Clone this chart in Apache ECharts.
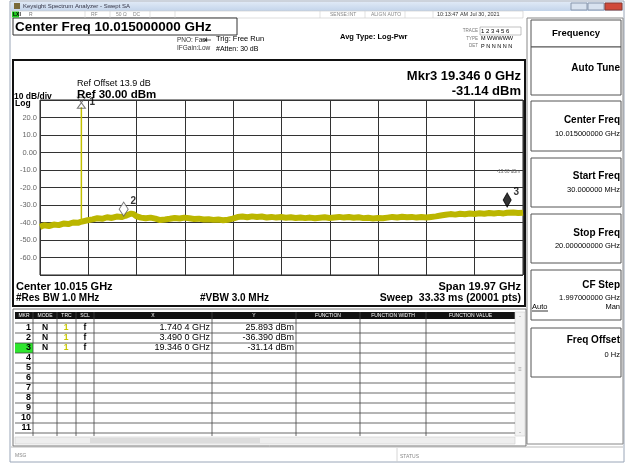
<!DOCTYPE html>
<html><head><meta charset="utf-8">
<script src="https://cdn.jsdelivr.net/npm/echarts@6/dist/echarts.min.js"></script>
<style>html,body{margin:0;padding:0;background:#fff}#c{width:628px;height:463px}</style>
</head><body><div id="c"></div>
<script>
// ---- data ----
const traceFreqGHz = [0.03,0.2,0.4,0.6,0.8,1.0,1.2,1.4,1.6,1.72,1.8,2.0,2.2,2.4,2.6,2.8,3.0,3.2,3.4,3.5,3.6,3.8,3.9,4.0,4.2,4.4,4.6,4.8,5.0,5.2,5.4,5.6,5.8,6.0,6.2,6.4,6.6,6.8,7.0,7.2,7.4,7.6,7.8,8.0,8.2,8.4,8.6,8.8,9.0,9.2,9.4,9.6,9.8,10.0,10.2,10.4,10.6,10.8,11.0,11.2,11.4,11.6,11.8,12.0,12.2,12.4,12.6,12.8,13.0,13.2,13.4,13.6,13.8,14.0,14.2,14.4,14.6,14.8,15.0,15.2,15.4,15.6,15.8,16.0,16.2,16.4,16.6,16.8,17.0,17.2,17.4,17.6,17.8,18.0,18.2,18.4,18.6,18.8,19.0,19.2,19.35,19.4,19.6,19.8,20.0];
const traceLevelDbm = [-42.5,-41.6,-42.0,-41.2,-41.5,-40.6,-40.9,-40.0,-40.2,-39.6,-39.4,-38.7,-38.2,-37.6,-37.9,-37.0,-37.4,-36.6,-36.9,-36.4,-36.0,-34.9,-35.2,-36.3,-37.2,-37.6,-37.2,-37.8,-38.6,-38.3,-37.9,-37.4,-37.7,-37.2,-37.6,-38.0,-37.8,-38.3,-38.1,-38.5,-38.3,-38.7,-38.4,-37.8,-36.9,-36.6,-37.0,-36.5,-36.9,-36.6,-37.1,-36.8,-37.2,-36.9,-37.3,-37.0,-37.4,-37.1,-37.5,-37.2,-37.6,-37.3,-37.0,-37.4,-37.1,-36.8,-37.2,-36.9,-37.3,-37.0,-37.5,-37.3,-37.7,-37.4,-37.6,-37.2,-36.8,-37.1,-36.7,-37.0,-36.8,-37.2,-36.9,-37.1,-36.8,-36.5,-36.0,-35.6,-35.2,-35.5,-35.0,-35.3,-34.9,-35.1,-34.7,-35.0,-34.6,-34.9,-34.5,-34.8,-34.4,-34.7,-34.3,-34.6,-34.4];
const spikeFreqGHz = [1.7404, 1.7404];
const spikeLevelDbm = [-39.6, 25.893];
const markerNum = ['1','2','3'];
const markerFreqGHz = [1.7404, 3.490, 19.346];
const markerLevelDbm = [25.893, -36.390, -31.14];
const markerXText = ['1.740 4 GHz','3.490 0 GHz','19.346 0 GHz'];
const markerYText = ['25.893 dBm','-36.390 dBm','-31.14 dBm'];
const yTickLabels = {20:'20.0',10:'10.0',0:'0.00','-10':'-10.0','-20':'-20.0','-30':'-30.0','-40':'-40.0','-50':'-50.0','-60':'-60.0'};
const tableColTitles = ['MKR','MODE','TRC','SCL','X','Y','FUNCTION','FUNCTION WIDTH','FUNCTION VALUE'];

// ---- chart ----
const chart = echarts.init(document.getElementById('c'), null, {renderer:'canvas'});
const F = 'Liberation Sans, Arial, sans-serif';
const G = [];
function T(x,y,text,o){o=o||{};G.push({type:'text',z:o.z||10,style:{x:x,y:y,text:text,font:(o.w||'normal')+' '+(o.s||9)+'px '+F,fill:o.c||'#000',align:o.a||'left',verticalAlign:'middle'}});}
function R(x,y,w,h,fill,stroke,lw,z){G.push({type:'rect',z:z||5,shape:{x:x,y:y,width:w,height:h},style:{fill:fill||'none',stroke:stroke||null,lineWidth:lw||1}});}
function L(x1,y1,x2,y2,c,lw,z){G.push({type:'line',z:z||6,shape:{x1:x1,y1:y1,x2:x2,y2:y2},style:{stroke:c||'#000',lineWidth:lw||1}});}

// window frame
R(10,1,614,461,'none','#9aa6b8',1,1);
G.push({type:'rect',z:2,shape:{x:11,y:2,width:612,height:9},style:{fill:new echarts.graphic.LinearGradient(0,0,0,1,[{offset:0,color:'#dfe9f6'},{offset:1,color:'#c3d4ea'}])}});
R(14,3,6,6,'#7a6a3a',null,1,3);
T(23,6.5,'Keysight Spectrum Analyzer - Swept SA',{s:6,c:'#334'});
R(571,3,16,7,'#d8e2ef','#8a98ad',1,3);R(588,3,16,7,'#d8e2ef','#8a98ad',1,3);R(605,3,17,7,'#d04a3a','#8a3a30',1,3);
// status row
R(11,11,512,7,'#fff','#c8c8c8',0.6,3);
R(12,11.5,7,6,'#22cc22',null,1,4);T(13,14.6,'LXI',{s:5,w:'bold'});
T(29,14.6,'R',{s:5,c:'#777'});T(91,14.6,'RF',{s:5,c:'#888'});T(116,14.6,'50 Ω',{s:5,c:'#888'});T(133,14.6,'DC',{s:5,c:'#888'});
T(330,14.6,'SENSE:INT',{s:5,c:'#888'});T(371,14.6,'ALIGN AUTO',{s:5,c:'#888'});T(437,14.6,'10:13:47 AM Jul 30, 2021',{s:5.5,c:'#333'});
[85,110,150,175,320,365,405,433].forEach(x=>L(x,11,x,18,'#ccc',0.6,4));
// header
R(13,18,224,17,'#fff','#333',1,3);
T(15,27,'Center Freq 10.015000000 GHz',{s:13.5,w:'bold'});
T(177,40,'PNO: Fast',{s:6.5,c:'#333'});L(201,40,211,40,'#333',0.8,8);G.push({type:'circle',z:8,shape:{cx:206,cy:40,r:1.2},style:{fill:'#333'}});
T(177,48,'IFGain:Low',{s:6.5,c:'#333'});
T(216,39,'Trig: Free Run',{s:7.5,c:'#000'});T(216,49,'#Atten: 30 dB',{s:7,c:'#000'});
T(340,37,'Avg Type: Log-Pwr',{s:7.5,w:'bold'});
T(478,31,'TRACE',{s:4.5,c:'#777',a:'right'});T(481,31,'1 2 3 4 5 6',{s:6,c:'#000'});
T(478,38.5,'TYPE',{s:4.5,c:'#777',a:'right'});T(481,38.5,'M WWWWW',{s:5.5,c:'#000'});
T(478,46,'DET',{s:4.5,c:'#777',a:'right'});T(481,46,'P N N N N N',{s:5.5,c:'#000'});
R(480,27,41,8,'none','#999',0.6,3);
// main display frame
R(13,60,512,246,'none','#111',2,3);
T(77,84,'Ref Offset 13.9 dB',{s:9});
T(77,95,'Ref 30.00 dBm',{s:11.5,w:'bold'});
T(14,97,'10 dB/div',{s:8.5,w:'bold'});T(15,104,'Log',{s:8.5,w:'bold'});
T(521,76,'Mkr3 19.346 0 GHz',{s:13,w:'bold',a:'right'});
T(521,91,'-31.14 dBm',{s:13,w:'bold',a:'right'});
T(520,172,'-13.00 dBm',{s:4.5,c:'#666',a:'right',z:20});
T(16,287,'Center 10.015 GHz',{s:11,w:'bold'});
T(16,298,'#Res BW 1.0 MHz',{s:10,w:'bold'});
T(200,298,'#VBW 3.0 MHz',{s:10,w:'bold'});
T(521,287,'Span 19.97 GHz',{s:11,w:'bold',a:'right'});
T(521,298,'Sweep  33.33 ms (20001 pts)',{s:10.5,w:'bold',a:'right'});
// right softkey panel
R(527,18,96,426,'#fff','#888',1,2);
const keys=[[20,47],[47,95],[101,151],[158,207],[214,263],[270,320],[328,377]];
keys.forEach(k=>R(531,k[0],90,k[1]-k[0],'#fff','#555',1,3));
T(576,33,'Frequency',{s:9.5,w:'bold',a:'center'});
T(620,68,'Auto Tune',{s:10,w:'bold',a:'right'});
T(620,120,'Center Freq',{s:10,w:'bold',a:'right'});T(620,134,'10.015000000 GHz',{s:7.5,a:'right'});
T(620,176,'Start Freq',{s:10,w:'bold',a:'right'});T(620,190,'30.000000 MHz',{s:7.5,a:'right'});
T(620,233,'Stop Freq',{s:10,w:'bold',a:'right'});T(620,246,'20.000000000 GHz',{s:7.5,a:'right'});
T(620,285,'CF Step',{s:10,w:'bold',a:'right'});T(620,298,'1.997000000 GHz',{s:7.5,a:'right'});
T(532,307,'Auto',{s:7.5});L(532,311,548,311,'#000',0.8,12);T(620,307,'Man',{s:7.5,a:'right'});
T(620,340,'Freq Offset',{s:10,w:'bold',a:'right'});T(620,355,'0 Hz',{s:7.5,a:'right'});
// marker table
R(13,309,513,137,'#fff','#777',1,2);
const cols=[15,33,57,76,94,212,296,360,426,515];
R(15,312,500,7,'#111',null,1,4);
for(let i=0;i<tableColTitles.length;i++){T((cols[i]+cols[i+1])/2,315.6,tableColTitles[i],{s:5,c:'#fff',a:'center',z:11});}
for(let i=1;i<cols.length-1;i++){L(cols[i],312,cols[i],436,'#444',0.8,6);}
for(let r=0;r<=11;r++){L(15,323+r*10,515,323+r*10,'#444',0.8,6);}
R(15,343,18,10,'#2ee62e',null,1,5);
for(let r=1;r<=11;r++){T(31,328+(r-1)*10,String(r),{s:9,w:'bold',a:'right'});}
for(let i=0;i<markerNum.length;i++){
  const y=328+i*10;
  T(45,y,'N',{s:8.5,w:'bold',a:'center'});
  T(66,y,'1',{s:8.5,w:'bold',c:'#c8c800',a:'center'});
  T(85,y,'f',{s:8.5,w:'bold',a:'center'});
  T(210,y,markerXText[i],{s:9,a:'right'});
  T(294,y,markerYText[i],{s:9,a:'right'});
}
R(515,312,10,124,'#f2f2f2','#ccc',0.6,4);
T(520,316,'-',{s:6,c:'#888',a:'center'});T(520,432,'-',{s:6,c:'#888',a:'center'});T(520,369,'≡',{s:6,c:'#999',a:'center'});
R(15,437,500,7,'#eeeeee','#ccc',0.6,4);R(90,438,170,5,'#dcdcdc',null,1,5);
// bottom bar
L(11,447,623,447,'#aaa',0.8,4);
T(15,456,'MSG',{s:5,c:'#888'});L(397,448,397,462,'#ccc',0.8,4);T(400,457,'STATUS',{s:5,c:'#888'});

const traceData = traceFreqGHz.map((f,i)=>[f,traceLevelDbm[i]]);
const spikeData = spikeFreqGHz.map((f,i)=>[f,spikeLevelDbm[i]]);
const mk = (i,sym,size,off,fill,stroke,lo)=>({value:[markerFreqGHz[i],markerLevelDbm[i]],symbol:sym,symbolSize:size,symbolOffset:off,itemStyle:{color:fill,borderColor:stroke,borderWidth:1},label:{show:true,formatter:markerNum[i],position:'right',offset:lo,color:'#000',fontSize:10,fontWeight:'bold',fontFamily:F}});

chart.setOption({
  animation:false,
  grid:{left:40,right:105,top:100,bottom:188,show:true,borderColor:'#222',borderWidth:1,backgroundColor:'#fff'},
  xAxis:[
    {type:'value',min:0.03,max:20,show:false,splitLine:{show:false}},
    {type:'value',min:0,max:10,interval:1,position:'bottom',axisLine:{show:false},axisTick:{show:false},axisLabel:{show:false},splitLine:{show:true,lineStyle:{color:'#333',width:1}}}
  ],
  yAxis:{type:'value',min:-70,max:30,interval:10,axisLine:{show:false},axisTick:{show:false},
    axisLabel:{margin:3,fontSize:7.5,color:'#666',fontFamily:F,formatter:v=>yTickLabels[v]||''},
    splitLine:{show:true,lineStyle:{color:'#333',width:1}}},
  series:[
    {type:'line',xAxisIndex:0,data:traceData,symbol:'none',lineStyle:{color:'#bbb600',width:6},z:3},
    {type:'line',xAxisIndex:0,data:spikeData,symbol:'none',lineStyle:{color:'#c2c000',width:1.5},z:3},
    {type:'scatter',xAxisIndex:0,z:5,data:[
      mk(0,'path://M0,0L10,0L0,14L10,14Z',[8,11],[0,'-40%'],'none','#555',[-3,-1]),
      mk(1,'diamond',[9,14],[0,'-50%'],'#fff','#555',[-3,-8]),
      mk(2,'diamond',[8,14],[0,'-50%'],'#000','#000',[-3,-8])
    ]}
  ],
  graphic:G
});
</script></body></html>
